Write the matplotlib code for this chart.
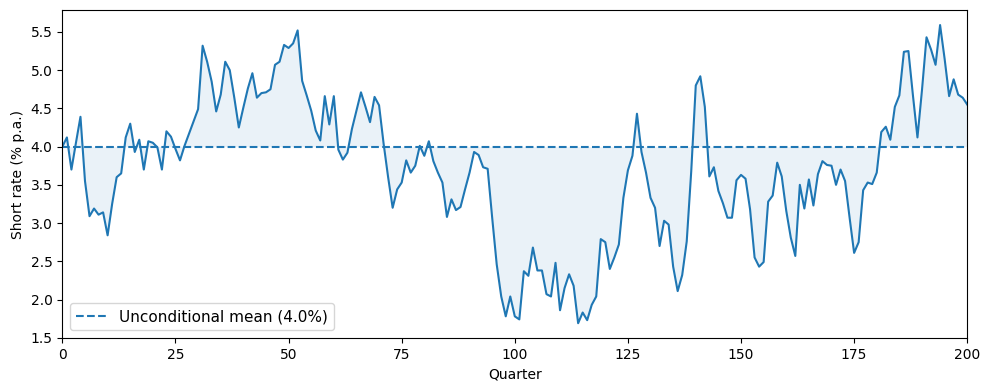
import numpy as np
import matplotlib
matplotlib.use("Agg")
import matplotlib.pyplot as plt

# ==========================================
# DATA
# ==========================================
mean_rate = 4.0

short_rate = [
    4.00, 4.12, 3.70, 4.05, 4.39, 3.55, 3.09, 3.19, 3.11, 3.14,
    2.84, 3.25, 3.60, 3.65, 4.12, 4.30, 3.93, 4.09, 3.70, 4.07,
    4.05, 3.99, 3.70, 4.20, 4.13, 3.97, 3.82, 4.01, 4.17, 4.33,
    4.49, 5.32, 5.11, 4.85, 4.46, 4.68, 5.11, 5.00, 4.64, 4.25,
    4.51, 4.76, 4.96, 4.64, 4.70, 4.71, 4.75, 5.07, 5.11, 5.33,
    5.29, 5.35, 5.52, 4.86, 4.67, 4.47, 4.21, 4.08, 4.66, 4.29,
    4.66, 3.96, 3.83, 3.92, 4.23, 4.47, 4.71, 4.52, 4.32, 4.65,
    4.54, 4.04, 3.60, 3.20, 3.44, 3.53, 3.82, 3.66, 3.75, 4.01,
    3.88, 4.07, 3.81, 3.66, 3.53, 3.08, 3.31, 3.17, 3.21, 3.44,
    3.66, 3.93, 3.89, 3.73, 3.71, 3.07, 2.46, 2.04, 1.78, 2.04,
    1.78, 1.74, 2.37, 2.31, 2.68, 2.38, 2.38, 2.07, 2.04, 2.48,
    1.86, 2.15, 2.33, 2.18, 1.69, 1.83, 1.73, 1.93, 2.04, 2.79,
    2.75, 2.40, 2.55, 2.72, 3.33, 3.69, 3.88, 4.43, 3.93, 3.66,
    3.33, 3.20, 2.70, 3.03, 2.98, 2.43, 2.11, 2.32, 2.76, 3.68,
    4.80, 4.92, 4.52, 3.61, 3.73, 3.42, 3.26, 3.07, 3.07, 3.56,
    3.63, 3.58, 3.18, 2.55, 2.43, 2.49, 3.28, 3.36, 3.79, 3.61,
    3.16, 2.81, 2.57, 3.50, 3.19, 3.57, 3.23, 3.64, 3.81, 3.76,
    3.75, 3.50, 3.70, 3.55, 3.07, 2.61, 2.75, 3.43, 3.53, 3.51,
    3.66, 4.19, 4.26, 4.09, 4.52, 4.67, 5.24, 5.25, 4.67, 4.12,
    4.74, 5.43, 5.27, 5.07, 5.59, 5.15, 4.66, 4.88, 4.68, 4.64,
    4.55,
]

quarters = np.arange(len(short_rate))
rate = np.array(short_rate)

# ==========================================
# PLOT
# ==========================================
fig, ax = plt.subplots(figsize=(9.9, 3.9), dpi=100)

ax.plot(quarters, rate, color="C0", lw=1.5)
ax.axhline(mean_rate, color="C0", ls="--", lw=1.5,
           label=f"Unconditional mean ({mean_rate:.1f}%)")
ax.fill_between(quarters, rate, mean_rate, color="C0", alpha=0.09, lw=0)

ax.set_xlim(0, 200)
ax.set_xlabel("Quarter")
ax.set_ylabel("Short rate (% p.a.)")
ax.legend(loc="lower left", fontsize=11)

fig.subplots_adjust(left=0.063, right=0.977, top=0.974, bottom=0.133)
fig.savefig("out.png")
